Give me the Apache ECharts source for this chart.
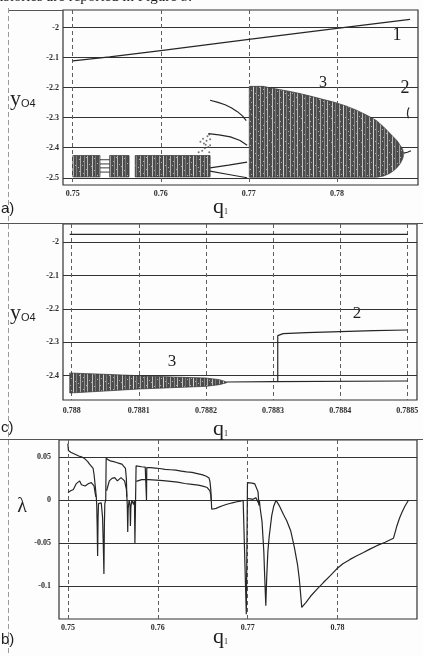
<!DOCTYPE html>
<html><head><meta charset="utf-8">
<script src="https://cdn.jsdelivr.net/npm/echarts@6/dist/echarts.min.js"></script>
<style>html,body{margin:0;padding:0;background:#fff}#c{width:423px;height:656px}</style>
</head><body><div id="c"></div>
<script>
// ---------- Panel a: bifurcation diagram y_O4 vs q1 ----------
const xTicksA = [0.75, 0.76, 0.77, 0.78];
const xLabelsA = ['0.75', '0.76', '0.77', '0.78'];
const yTicksA = [-2, -2.1, -2.2, -2.3, -2.4, -2.5];
const yLabelsA = ['-2', '-2.1', '-2.2', '-2.3', '-2.4', '-2.5'];

const line1Q = [0.7500, 0.7542, 0.7600, 0.7700, 0.7800, 0.7883];
const line1Y = [-2.111, -2.098, -2.077, -2.040, -2.003, -1.973];

const lobeQ  = [0.77005, 0.7716, 0.7730, 0.7745, 0.7758, 0.7772, 0.7785, 0.7796, 0.7810, 0.7822, 0.7834, 0.7845, 0.7853, 0.7860, 0.7864, 0.7868, 0.7872, 0.78745, 0.78757];
const lobeHi = [-2.196, -2.196, -2.204, -2.212, -2.220, -2.230, -2.240, -2.248, -2.261, -2.275, -2.292, -2.310, -2.331, -2.352, -2.364, -2.376, -2.393, -2.405, -2.418];
const lobeLo = [-2.498, -2.498, -2.498, -2.498, -2.498, -2.498, -2.498, -2.498, -2.498, -2.498, -2.498, -2.498, -2.494, -2.485, -2.477, -2.467, -2.452, -2.437, -2.425];

const bandAQ = [0.75002, 0.7531]; const bandALo = [-2.497, -2.497]; const bandAHi = [-2.426, -2.426];
const bandBQ = [0.7542, 0.7564];  const bandBLo = [-2.497, -2.497]; const bandBHi = [-2.426, -2.426];
const bandCQ = [0.7571, 0.7656];  const bandCLo = [-2.497, -2.497]; const bandCHi = [-2.426, -2.426];

const per1Q = [0.7656, 0.7665, 0.7673, 0.7680, 0.7687, 0.7693, 0.7697];
const per1Y = [-2.242, -2.249, -2.257, -2.267, -2.280, -2.295, -2.310];
const per2Q = [0.7654, 0.7666, 0.7679, 0.7690, 0.7698];
const per2Y = [-2.353, -2.357, -2.364, -2.376, -2.392];
const per3Q = [0.7656, 0.7677, 0.7698];
const per3Y = [-2.467, -2.458, -2.448];
const per4Q = [0.7656, 0.7677, 0.7698];
const per4Y = [-2.478, -2.489, -2.500];

const gapQ = [0.7531, 0.7542];
const gapLevels = [-2.440, -2.454, -2.467, -2.481];

const dotsQ = [0.7645, 0.7648, 0.7651, 0.7653, 0.7655, 0.7656, 0.7650, 0.7647, 0.7654, 0.7652, 0.7656, 0.7649, 0.7643, 0.7655];
const dotsY = [-2.380, -2.370, -2.390, -2.362, -2.356, -2.372, -2.402, -2.410, -2.398, -2.377, -2.392, -2.386, -2.415, -2.415];

const frag2Q = [0.78812, 0.78800, 0.78805, 0.78818];
const frag2Y = [-2.302, -2.288, -2.275, -2.266];
const tail3Q = [0.78757, 0.7880, 0.7884];
const tail3Y = [-2.418, -2.415, -2.410];

// ---------- Panel c: zoomed bifurcation diagram ----------
const xTicksC = [0.788, 0.7881, 0.7882, 0.7883, 0.7884, 0.7885];
const xLabelsC = ['0.788', '0.7881', '0.7882', '0.7883', '0.7884', '0.7885'];
const yTicksC = [-2, -2.1, -2.2, -2.3, -2.4];
const yLabelsC = ['-2', '-2.1', '-2.2', '-2.3', '-2.4'];

const bandC3Q  = [0.787997, 0.78805, 0.78810, 0.78815, 0.78820, 0.78822, 0.788231];
const bandC3Hi = [-2.392, -2.396, -2.400, -2.404, -2.407, -2.412, -2.419];
const bandC3Lo = [-2.452, -2.446, -2.440, -2.436, -2.432, -2.427, -2.421];
const c1Q = [0.787997, 0.788501];
const c1Y = [-1.976, -1.976];
const c3Q = [0.788231, 0.78830, 0.78850];
const c3Y = [-2.419, -2.418, -2.416];
const c2Q = [0.788307, 0.788307, 0.788315, 0.78835, 0.78840, 0.78845, 0.78850];
const c2Y = [-2.418, -2.280, -2.274, -2.271, -2.268, -2.265, -2.263];

// ---------- Panel b: Lyapunov exponents ----------
const xTicksB = [0.75, 0.76, 0.77, 0.78];
const xLabelsB = ['0.75', '0.76', '0.77', '0.78'];
const yTicksB = [0.05, 0, -0.05, -0.1];
const yLabelsB = ['0.05', '0', '-0.05', '-0.1'];

const lam1Q = [0.74998, 0.75005, 0.7503, 0.7506, 0.7509, 0.7512, 0.7515, 0.7518, 0.7520, 0.7522, 0.7524, 0.7526, 0.7528, 0.7529, 0.7530, 0.75315, 0.7532, 0.75325, 0.7533, 0.75335, 0.7534, 0.75355, 0.7537, 0.75385, 0.75395, 0.7540, 0.75405, 0.7541, 0.7542, 0.75425, 0.7545, 0.7548, 0.7551, 0.7554, 0.7557, 0.7560, 0.7562, 0.7564, 0.7565, 0.75655, 0.7566, 0.75665, 0.7567, 0.7568, 0.7569, 0.75695, 0.7570, 0.7571, 0.7573, 0.7574, 0.75745, 0.75752, 0.75758, 0.7578, 0.7582, 0.7586, 0.75872, 0.75874, 0.75877, 0.7592, 0.7597, 0.7602, 0.7608, 0.7614, 0.7620, 0.7626, 0.7632, 0.7638, 0.7644, 0.7650, 0.7654, 0.7657, 0.7658, 0.7659, 0.76595, 0.7660, 0.7662, 0.7665, 0.7668, 0.7672, 0.7676, 0.7680, 0.7684, 0.7688, 0.7692, 0.7695, 0.7697, 0.76985, 0.76998, 0.7702, 0.7705, 0.7708, 0.7710, 0.77115, 0.7712, 0.77125, 0.7713, 0.7714, 0.7716, 0.7718, 0.7719, 0.77202, 0.77212, 0.77225, 0.7724, 0.77268, 0.7729, 0.77316, 0.7735, 0.7740, 0.77435, 0.7748, 0.7752, 0.77555, 0.77575, 0.7759, 0.77602, 0.7765, 0.7770, 0.7777, 0.77843, 0.7792, 0.77992, 0.7806, 0.7814, 0.7821, 0.78289, 0.7836, 0.78438, 0.7853, 0.78623, 0.7864, 0.78661, 0.7869, 0.78717, 0.7875, 0.7879];
const lam1Y = [0.066, 0.058, 0.056, 0.0545, 0.053, 0.0515, 0.0505, 0.049, 0.0475, 0.045, 0.042, 0.040, 0.037, 0.030, 0.020, 0.004, -0.006, -0.030, -0.065, -0.020, -0.004, -0.002, -0.003, -0.020, -0.060, -0.086, -0.030, -0.004, 0.000, 0.049, 0.047, 0.0455, 0.045, 0.044, 0.043, 0.042, 0.040, 0.037, 0.025, 0.005, -0.005, -0.037, -0.010, 0.000, -0.005, -0.030, -0.008, 0.000, -0.005, 0.000, -0.050, -0.050, 0.040, 0.040, 0.039, 0.0385, 0.038, 0.000, 0.038, 0.038, 0.0375, 0.037, 0.036, 0.0355, 0.035, 0.034, 0.033, 0.0325, 0.031, 0.0295, 0.028, 0.026, 0.022, 0.012, 0.000, -0.0105, -0.0105, -0.0095, -0.008, -0.0065, -0.005, -0.0038, -0.0028, -0.0018, -0.001, 0.000, 0.0005, -0.133, 0.0206, 0.0205, 0.020, 0.019, 0.0175, 0.010, 0.003, -0.006, 0.000, -0.010, -0.025, -0.060, -0.090, -0.123, -0.090, -0.060, -0.042, -0.018, -0.007, 0.000, -0.006, -0.017, -0.024, -0.036, -0.055, -0.075, -0.092, -0.110, -0.125, -0.119, -0.112, -0.104, -0.096, -0.088, -0.080, -0.074, -0.069, -0.065, -0.061, -0.057, -0.053, -0.049, -0.0443, -0.038, -0.030, -0.021, -0.0144, -0.007, 0.000];

const lam2Q = [0.75000, 0.7503, 0.7506, 0.7509, 0.7513, 0.7515, 0.7517, 0.7519, 0.7521, 0.7523, 0.7526, 0.7528, 0.7529, 0.7530, 0.7531, 0.75312,
  0.7543, 0.7546, 0.7549, 0.7552, 0.7555, 0.7557, 0.7559, 0.7561, 0.7563, 0.7565, 0.75655, 0.75657,
  0.7576, 0.7578, 0.7582, 0.7590, 0.7598, 0.7606, 0.7614, 0.7622, 0.7630, 0.7638, 0.7645, 0.7650, 0.7655, 0.7658, 0.7659, 0.76595, 0.76597,
  0.77000, 0.7703, 0.7706, 0.7709, 0.7711, 0.77125];
const lam2Y = [0.009, 0.011, 0.0125, 0.019, 0.0225, 0.018, 0.0195, 0.0165, 0.018, 0.0195, 0.0205, 0.019, 0.0167, 0.010, 0.004, null,
  0.011, 0.0225, 0.0255, 0.0264, 0.0225, 0.023, 0.0264, 0.026, 0.0225, 0.0128, 0.004, null,
  0.022, 0.0235, 0.024, 0.024, 0.0235, 0.0228, 0.022, 0.021, 0.0195, 0.0185, 0.0175, 0.0165, 0.0148, 0.011, 0.006, 0.000, null,
  0.002, 0.0015, 0.001, 0.003, 0.001, -0.004];

// ---------- helpers ----------
const pair = (q, y) => q.map((v, i) => [v, y[i]]);
const INK = '#262626';
const SERIF = 'Liberation Serif';

function makePattern() {
  const c = document.createElement('canvas');
  c.width = 30; c.height = 12;
  const g = c.getContext('2d');
  g.fillStyle = '#4c4c4c'; g.fillRect(0, 0, 30, 12);
  const stripes = [[2, 0.65], [5, 0.25], [9, 0.5], [13, 0.75], [16, 0.3], [20, 0.55], [24, 0.35], [27, 0.6]];
  stripes.forEach(s => { g.fillStyle = 'rgba(255,255,255,' + s[1] + ')'; g.fillRect(s[0], 0, 1, 12); });
  g.fillStyle = 'rgba(255,255,255,0.55)';
  [[4, 2], [11, 6], [19, 3], [15, 9], [7, 7], [23, 5], [1, 10], [26, 1], [29, 8], [18, 11], [10, 1], [22, 9]].forEach(p => g.fillRect(p[0], p[1], 1, 1));
  return { image: c, repeat: 'repeat' };
}
const PAT = makePattern();

function band(idx, q, lo, hi, fill) {
  return {
    type: 'custom', xAxisIndex: idx, yAxisIndex: idx, silent: true, clip: true, z: 2,
    data: q.map((v, i) => [v, lo[i], hi[i]]),
    renderItem: function (params, api) {
      if (params.dataIndexInside !== 0) return null;
      const n = params.dataInsideLength;
      const top = [], bot = [];
      for (let i = 0; i < n; i++) {
        top.push(api.coord([api.value(0, i), api.value(2, i)]));
        bot.push(api.coord([api.value(0, i), api.value(1, i)]));
      }
      return { type: 'polygon', shape: { points: top.concat(bot.reverse()) },
               style: { fill: fill, stroke: '#333', lineWidth: 0.7 } };
    }
  };
}
function line(idx, q, y, w) {
  return { type: 'line', xAxisIndex: idx, yAxisIndex: idx, data: pair(q, y), showSymbol: false, symbol: 'none',
           connectNulls: false, silent: true, z: 3, lineStyle: { color: INK, width: w || 1.2 } };
}
function fmt(ticks, labels) {
  return v => { const k = ticks.findIndex(t => Math.abs(t - v) < 1e-9); return k >= 0 ? labels[k] : ''; };
}
function xAxis(idx, min, max, ticks, labels, margin) {
  return { type: 'value', gridIndex: idx, min: min, max: max,
    axisLine: { show: false }, axisTick: { show: false, customValues: ticks },
    axisLabel: { customValues: ticks, formatter: fmt(ticks, labels), fontFamily: SERIF, fontSize: 8, fontWeight: 'bold', color: '#2a2a2a', margin: margin },
    splitLine: { show: true, lineStyle: { color: '#5e5e5e', width: 1, type: [4, 3] } } };
}
function yAxis(idx, min, max, ticks, labels, margin) {
  return { type: 'value', gridIndex: idx, min: min, max: max,
    axisLine: { show: false }, axisTick: { show: false, customValues: ticks },
    axisLabel: { customValues: ticks, formatter: fmt(ticks, labels), fontFamily: SERIF, fontSize: 8, fontWeight: 'bold', color: '#2a2a2a', margin: margin },
    splitLine: { show: true, lineStyle: { color: '#333', width: 1.2 } } };
}

const series = [
  band(0, bandAQ, bandALo, bandAHi, PAT),
  band(0, bandBQ, bandBLo, bandBHi, PAT),
  band(0, bandCQ, bandCLo, bandCHi, PAT),
  band(0, lobeQ, lobeLo, lobeHi, PAT),
  line(0, line1Q, line1Y),
  line(0, per1Q, per1Y), line(0, per2Q, per2Y), line(0, per3Q, per3Y), line(0, per4Q, per4Y),
  line(0, frag2Q, frag2Y), line(0, tail3Q, tail3Y),
  { type: 'scatter', xAxisIndex: 0, yAxisIndex: 0, data: pair(dotsQ, dotsY), symbolSize: 2, silent: true,
    itemStyle: { color: '#555' } },
  band(1, bandC3Q, bandC3Lo, bandC3Hi, PAT),
  line(1, c1Q, c1Y), line(1, c3Q, c3Y), line(1, c2Q, c2Y),
  line(2, lam1Q, lam1Y), line(2, lam2Q, lam2Y)
];
gapLevels.forEach(l => series.push(line(0, gapQ, gapQ.map(() => l), 0.9)));

function txt(x, y, t, size) {
  return { type: 'text', x: x, y: y, silent: true,
    style: { text: t, font: size + 'px "' + SERIF + '"', fill: '#1e1e1e', textAlign: 'center', textVerticalAlign: 'middle' } };
}
function yO4(x, y) {
  return { type: 'text', x: x, y: y, silent: true,
    style: { text: '{a|y}{b|O4}', rich: { a: { font: '22px "Liberation Serif"', fill: '#1e1e1e' },
      b: { font: '11px "Liberation Sans"', fill: '#1e1e1e', padding: [9, 0, 0, 0] } } } };
}
function q1(x, y) {
  return { type: 'text', x: x, y: y, silent: true,
    style: { text: '{a|q}{b|1}', rich: { a: { font: '22px "Liberation Serif"', fill: '#1e1e1e' },
      b: { font: '8px "Liberation Serif"', fill: '#1e1e1e', padding: [10, 0, 0, 0] } } } };
}
function hline(x1, x2, y, stroke, w) {
  return { type: 'line', silent: true, shape: { x1: x1, y1: y, x2: x2, y2: y }, style: { stroke: stroke, lineWidth: w || 1 } };
}

const option = {
  animation: false,
  backgroundColor: '#fdfdfd',
  grid: [
    { left: 63, top: 10, width: 355, height: 175, show: true, borderColor: '#333', borderWidth: 1.2 },
    { left: 63, top: 224, width: 354, height: 176, show: true, borderColor: '#333', borderWidth: 1.2 },
    { left: 59, top: 440, width: 358, height: 179, show: true, borderColor: '#333', borderWidth: 1.2 }
  ],
  xAxis: [
    xAxis(0, 0.7489, 0.7892, xTicksA, xLabelsA, 5),
    xAxis(1, 0.787987, 0.7885145, xTicksC, xLabelsC, 7),
    xAxis(2, 0.749, 0.78885, xTicksB, xLabelsB, 5)
  ],
  yAxis: [
    yAxis(0, -2.524, -1.942, yTicksA, yLabelsA, 4),
    yAxis(1, -2.473, -1.945, yTicksC, yLabelsC, 4),
    yAxis(2, -0.1385, 0.0702, yTicksB, yLabelsB, 8)
  ],
  series: series,
  graphic: [
    { type: 'text', x: -8, y: -10, silent: true, style: { text: 'histories are reported in Figure 5.', font: '15px "Liberation Serif"', fill: '#1e1e1e' } },
    { type: 'line', silent: true, shape: { x1: 8.5, y1: 8, x2: 8.5, y2: 656 }, style: { stroke: '#9a9a9a', lineWidth: 1, lineDash: [5, 3] } },
    hline(9, 63, 10.5, '#555'),
    hline(0, 423, 223.5, '#555', 1.2),
    hline(0, 423, 439.5, '#555', 1.2),
    yO4(10, 88), yO4(10, 302),
    txt(22, 507, 'λ', 20),
    q1(213, 196), q1(213, 418), q1(213, 626),
    { type: 'text', x: 1, y: 201, silent: true, style: { text: 'a)', font: '15px "Liberation Sans"', fill: '#1e1e1e' } },
    { type: 'text', x: 1, y: 420, silent: true, style: { text: 'c)', font: '15px "Liberation Sans"', fill: '#1e1e1e' } },
    { type: 'text', x: 1, y: 632, silent: true, style: { text: 'b)', font: '15px "Liberation Sans"', fill: '#1e1e1e' } },
    txt(397, 35, '1', 18), txt(405, 88, '2', 18), txt(323, 83, '3', 16),
    txt(357, 314, '2', 17), txt(172, 362, '3', 17)
  ]
};
echarts.init(document.getElementById('c'), null, { renderer: 'canvas' }).setOption(option);
</script></body></html>
